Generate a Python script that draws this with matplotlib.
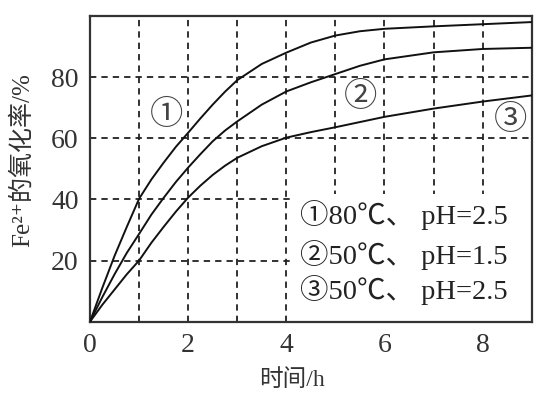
import matplotlib
matplotlib.use("Agg")
import matplotlib.pyplot as plt
from matplotlib.patches import Rectangle

plt.rcParams["font.family"] = ["Liberation Serif", "Noto Sans CJK SC", "DejaVu Sans"]

# ==========================
# Data
# ==========================

t = [0, 0.25, 0.5, 0.75, 1, 1.25, 1.5, 1.75, 2, 2.25, 2.5, 2.75, 3, 3.5,
     4, 4.5, 5, 5.5, 6, 7, 8, 9]

# 1: 80 C, pH 2.5
c1 = [0, 11, 21.5, 31, 40.2, 46.5, 52, 57.2, 61.8, 66.5, 71, 75.2, 79, 84.3,
      88, 91.3, 93.6, 95, 95.8, 96.6, 97.3, 98]
# 2: 50 C, pH 1.5
c2 = [0, 8, 15.5, 22.5, 28.7, 35, 40.5, 45.7, 50.4, 54.8, 59, 62.5, 65.5, 71,
      75.3, 78.3, 81, 83.7, 85.8, 88.1, 89.2, 89.6]
# 3: 50 C, pH 2.5
c3 = [0, 5.5, 10.5, 15.5, 20, 25.8, 31, 36, 40.6, 44.5, 48, 51, 53.6, 57.4,
      60.2, 62, 63.6, 65.3, 67, 69.7, 72, 74]

curve_labels = ["①", "②", "③"]
curve_label_pos = [(1.56, 67.3), (5.52, 73.3), (8.57, 65.7)]

legend_lines = ["①80℃、 pH=2.5", "②50℃、 pH=1.5", "③50℃、 pH=2.5"]
legend_y = [34.8, 21.8, 10.3]

# ==========================
# Plot
# ==========================

fig = plt.figure(figsize=(5.34, 3.94), dpi=100)
ax = fig.add_axes([0.1685, 0.1835, 0.8272, 0.7760])

grid_kw = dict(color="#222222", lw=1.3, ls=(0, (3.5, 2.8)), zorder=1)
for x in range(1, 9):
    ax.axvline(x, **grid_kw)
for y in [20, 40, 60, 80]:
    ax.axhline(y, **grid_kw)

# white patch under the condition text
ax.add_patch(Rectangle((4.08, 0.3), 4.9, 41.5, facecolor="white",
                       edgecolor="none", zorder=2))

for c in [c1, c2, c3]:
    ax.plot(t, c, color="#111111", lw=1.4, zorder=3)

for lab, (x, y) in zip(curve_labels, curve_label_pos):
    ax.text(x, y, lab, fontsize=24, ha="center", va="center",
            color="#444444", zorder=4)

for s, y in zip(legend_lines, legend_y):
    ax.text(4.28, y, s, fontsize=20.5, ha="left", va="center",
            color="#222222", zorder=4)

ax.set_xlim(0, 9)
ax.set_ylim(0, 100)
ax.set_xticks([0, 2, 4, 6, 8])
ax.set_xticks([1, 3, 5, 7], minor=True)
ax.set_yticks([20, 40, 60, 80])
ax.tick_params(axis="both", which="both", direction="in", labelsize=20,
               colors="#333333", length=4, width=1.2)
ax.tick_params(axis="x", pad=8)
ax.tick_params(axis="y", pad=8)

for sp in ax.spines.values():
    sp.set_linewidth(1.6)
    sp.set_color("#333333")

ax.set_xlabel("时间/h", fontsize=17, color="#333333")
ax.xaxis.set_label_coords(0.458, -0.155)
ax.set_ylabel("Fe²⁺的氧化率/%", fontsize=18, color="#333333")
ax.yaxis.set_label_coords(-0.127, 0.53)

fig.savefig("out.png", dpi=100)
